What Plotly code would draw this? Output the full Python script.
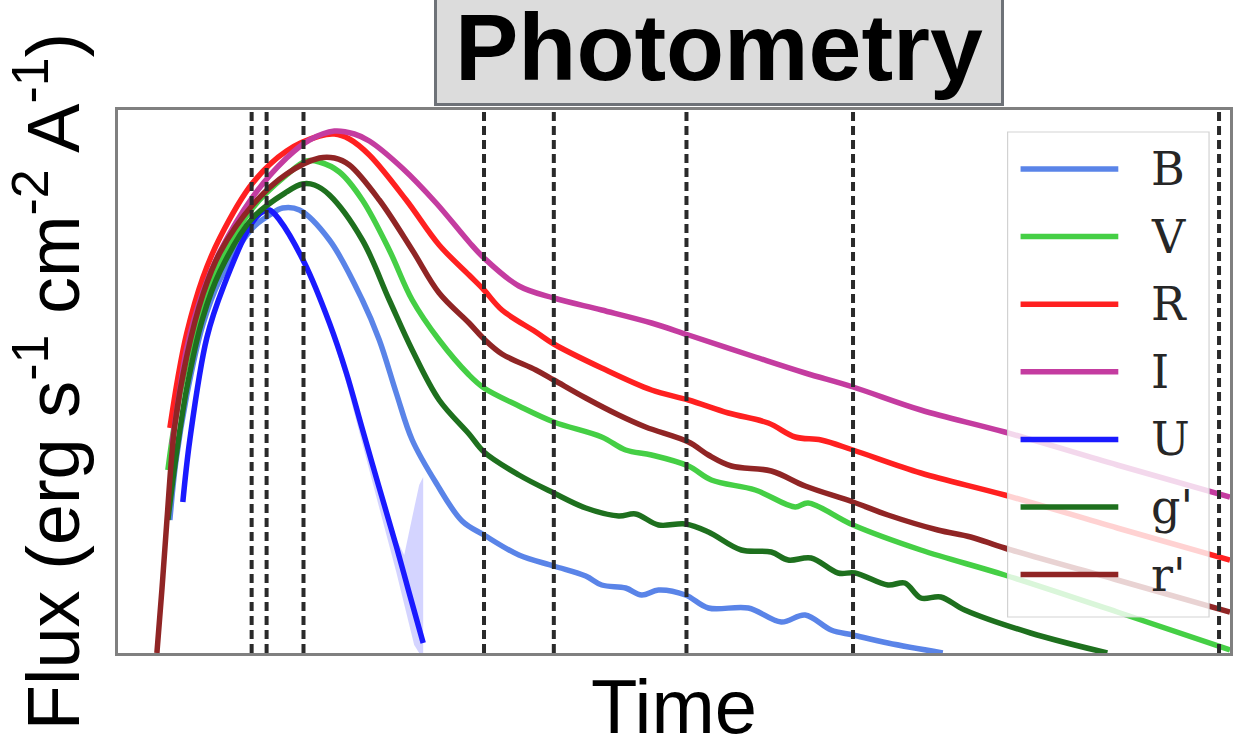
import plotly.graph_objects as go

# ---------------- data (time in arbitrary units, flux in arbitrary units) ----------------
bands = ["B", "V", "R", "I", "U", "g'", "r'"]
colors = ["#5A84E8", "#45CF45", "#FF2020", "#C43CA0", "#1A1AFF", "#1E701E", "#902525"]

B_time = [5.2, 5.8, 6.9, 8.5, 10.2, 13.5, 15.2, 16.5, 18.2, 21.2, 24.5, 26.2, 27.9, 29.5, 31.9, 34.5,
          36.7, 40.2, 43.7, 46.9, 48.5, 50.9, 52.5, 54.2, 56.9, 59.2, 63.2, 66.5, 68.9, 71.5, 73.7, 77.2, 82.7]
B_flux = [1.33, 1.91, 2.58, 3.28, 3.73, 4.25, 4.38, 4.45, 4.43, 4.13, 3.53, 3.13, 2.60, 2.13, 1.70, 1.32,
          1.18, 0.98, 0.87, 0.77, 0.68, 0.65, 0.58, 0.63, 0.58, 0.45, 0.45, 0.31, 0.38, 0.23, 0.18, 0.10, 0.00]

V_time = [5.0, 5.7, 6.9, 8.5, 10.2, 13.5, 16.9, 18.9, 20.2, 22.2, 24.5, 27.2, 29.5, 32.2, 35.2, 36.7,
          40.2, 43.7, 48.5, 50.9, 53.5, 57.2, 59.5, 63.9, 67.9, 69.2, 73.7, 80.5, 88.9, 100.2, 111.5]
V_flux = [1.83, 2.31, 2.91, 3.50, 3.91, 4.45, 4.78, 4.92, 4.91, 4.81, 4.53, 4.03, 3.53, 3.13, 2.78, 2.65,
          2.47, 2.31, 2.16, 2.03, 1.98, 1.87, 1.73, 1.63, 1.46, 1.50, 1.28, 1.03, 0.78, 0.41, 0.03]

R_time = [5.2, 6.0, 6.9, 8.5, 10.2, 13.5, 16.9, 20.2, 21.7, 23.2, 25.2, 28.9, 32.2, 35.2, 36.7, 38.5,
          41.9, 43.7, 48.5, 53.5, 57.2, 61.2, 65.2, 67.9, 70.5, 73.7, 80.5, 88.9, 100.2, 111.5]
R_flux = [2.25, 2.75, 3.20, 3.75, 4.15, 4.70, 5.02, 5.17, 5.19, 5.14, 4.98, 4.53, 4.08, 3.78, 3.63, 3.43,
          3.21, 3.09, 2.85, 2.63, 2.53, 2.40, 2.30, 2.16, 2.13, 2.03, 1.80, 1.58, 1.25, 0.93]

I_time = [5.4, 6.2, 6.9, 8.5, 10.2, 13.5, 16.9, 19.2, 21.7, 23.7, 25.2, 28.5, 31.9, 35.2, 36.7, 40.2,
          43.7, 48.5, 53.5, 57.2, 63.9, 68.9, 73.7, 80.5, 88.9, 100.2, 111.5]
I_flux = [2.08, 2.63, 3.05, 3.61, 4.01, 4.56, 4.95, 5.13, 5.22, 5.19, 5.12, 4.85, 4.50, 4.11, 3.95, 3.67,
          3.55, 3.43, 3.30, 3.18, 2.96, 2.80, 2.66, 2.43, 2.21, 1.88, 1.56]

U_time = [6.5, 7.2, 8.9, 10.6, 13.5, 14.5, 15.2, 16.2, 18.7, 21.2, 22.9, 24.5, 26.2, 27.9, 29.2, 30.6]
U_flux = [1.51, 2.13, 3.15, 3.67, 4.31, 4.41, 4.43, 4.33, 3.90, 3.30, 2.80, 2.24, 1.65, 1.07, 0.60, 0.10]

# uncertainty band of U near the end of its light curve
U_band_time = [21.2, 22.9, 24.5, 26.2, 27.9, 28.7, 29.2, 29.7, 30.2, 30.6]
U_band_upper = [3.33, 2.86, 2.30, 1.72, 1.14, 0.98, 1.23, 1.45, 1.68, 1.76]
U_band_lower = [3.27, 2.70, 2.08, 1.45, 0.81, 0.48, 0.28, 0.08, 0.00, 0.00]

gp_time = [5.0, 5.8, 6.9, 8.5, 10.2, 13.5, 16.9, 18.5, 19.7, 21.2, 24.5, 27.2, 29.5, 32.2, 35.2, 36.7,
           40.2, 43.7, 46.9, 50.2, 51.9, 54.2, 56.9, 59.2, 62.5, 65.5, 67.2, 69.5, 72.2, 73.9, 77.2,
           78.9, 80.5, 82.5, 84.9, 91.5, 99.2]
gp_flux = [1.33, 1.95, 2.65, 3.35, 3.81, 4.35, 4.61, 4.69, 4.68, 4.58, 4.13, 3.53, 3.03, 2.53, 2.19, 2.01,
           1.78, 1.60, 1.45, 1.37, 1.39, 1.28, 1.29, 1.21, 1.03, 1.01, 0.93, 0.95, 0.80, 0.80, 0.68,
           0.70, 0.55, 0.56, 0.43, 0.20, 0.00]

rp_time = [3.9, 4.4, 4.9, 5.7, 6.9, 8.5, 10.2, 13.5, 16.9, 20.2, 21.7, 23.2, 26.2, 29.5, 32.2, 35.2,
           36.7, 38.5, 41.9, 43.7, 46.9, 50.2, 52.9, 57.2, 59.2, 61.5, 65.5, 68.9, 73.7, 77.2, 82.2,
           85.5, 88.9, 100.2, 111.5]
rp_flux = [0.00, 0.63, 1.32, 2.28, 2.97, 3.58, 4.00, 4.48, 4.79, 4.95, 4.95, 4.88, 4.53, 4.03, 3.60, 3.30,
           3.14, 2.99, 2.83, 2.73, 2.55, 2.38, 2.26, 2.11, 1.98, 1.87, 1.82, 1.67, 1.51, 1.38, 1.23,
           1.16, 1.05, 0.73, 0.41]

event_times = [13.4, 14.9, 18.6, 36.7, 43.7, 57.0, 73.7, 110.4]

series_time = [B_time, V_time, R_time, I_time, U_time, gp_time, rp_time]
series_flux = [B_flux, V_flux, R_flux, I_flux, U_flux, gp_flux, rp_flux]

# ---------------- figure ----------------
W, H = 1233, 751
ML, MR, MT, MB = 118, 0, 110, 98
PW, PH = W - ML - MR, H - MT - MB

def px_x(px):
    return (px - ML) / PW

def px_y(py):
    return (H - MB - py) / PH

fig = go.Figure()

# U uncertainty band
fig.add_trace(go.Scatter(
    x=U_band_time + U_band_time[::-1],
    y=U_band_upper + U_band_lower[::-1],
    fill="toself", fillcolor="rgba(60,60,255,0.22)",
    line=dict(width=0), mode="lines", hoverinfo="skip", showlegend=False))

for name, col, tx, fy in zip(bands, colors, series_time, series_flux):
    fig.add_trace(go.Scatter(
        x=tx, y=fy, mode="lines", name=name,
        line=dict(color=col, width=5.5, shape="spline", smoothing=1.0),
        showlegend=False))

for t in event_times:
    fig.add_shape(type="line", xref="x", yref="paper", x0=t, x1=t, y0=0, y1=1,
                  line=dict(color="#2A2A2A", width=4, dash="9px,5px"), layer="above")

# legend (drawn as box + samples + labels)
leg_left, leg_right, leg_top, leg_bottom = 1010, 1212, 132, 617
fig.add_shape(type="rect", xref="paper", yref="paper",
              x0=px_x(leg_left), x1=px_x(leg_right), y0=px_y(leg_bottom), y1=px_y(leg_top),
              fillcolor="rgba(255,255,255,0.8)", line=dict(color="rgba(205,205,205,0.9)", width=1.2),
              layer="above")
first_row, row_step = 169, 67.6
for i, (name, col) in enumerate(zip(bands, colors)):
    yc = px_y(first_row + i * row_step)
    fig.add_shape(type="line", xref="paper", yref="paper",
                  x0=px_x(1023), x1=px_x(1121), y0=yc, y1=yc,
                  line=dict(color=col, width=5.5), layer="above")
    fig.add_annotation(xref="paper", yref="paper", x=px_x(1152), y=yc,
                       xanchor="left", yanchor="middle", text=name, showarrow=False,
                       font=dict(family="DejaVu Serif", size=46, color="#262626"))

# boxed title
fig.add_annotation(xref="paper", yref="paper", x=px_x(721), y=px_y(106),
                   xanchor="center", yanchor="bottom", text="<b>Photometry</b>", showarrow=False,
                   font=dict(family="Liberation Sans, Arial", size=95, color="black"),
                   bgcolor="#DCDCDC", bordercolor="#6E7278", borderwidth=3, borderpad=3,
                   width=558)

fig.update_layout(
    width=W, height=H,
    margin=dict(l=ML, r=MR, t=MT, b=MB, pad=0),
    paper_bgcolor="white", plot_bgcolor="white",
    showlegend=False,
    font=dict(family="Liberation Sans, Arial", color="black"),
)
fig.update_xaxes(range=[0, 111.5], showgrid=False, zeroline=False, showticklabels=False, ticks="",
                 showline=True, mirror=True, linecolor="#808080", linewidth=2.5,
                 title=dict(text="Time", font=dict(size=76, family="Liberation Sans, Arial"), standoff=26))
fig.update_yaxes(range=[0, 5.43], showgrid=False, zeroline=False, showticklabels=False, ticks="",
                 showline=True, mirror=True, linecolor="#808080", linewidth=2.5,
                 title=dict(text="Flux (erg s<sup>-1</sup> cm<sup>-2</sup> A<sup>-1</sup>)",
                            font=dict(size=74, family="Liberation Sans, Arial"), standoff=12))

fig.write_html("out.html")
